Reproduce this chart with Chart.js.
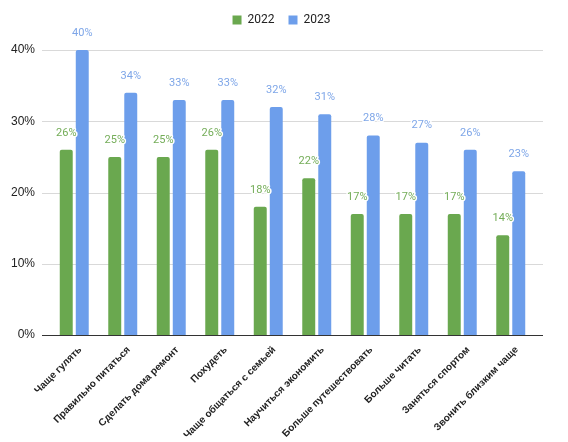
<!DOCTYPE html>
<html>
<head>
<meta charset="utf-8">
<script src="https://cdn.jsdelivr.net/npm/chart.js@4"></script>
<style>
  html, body { margin: 0; padding: 0; background: #fff; }
  #wrap { width: 568px; height: 442px; }
</style>
</head>
<body>
<div id="wrap"><canvas id="goalsChart"></canvas></div>
<script>
// Цели на год: 2022 vs 2023 (%)
const categories = [
  'Чаще гулять', 'Правильно питаться', 'Сделать дома ремонт', 'Похудеть',
  'Чаще общаться с семьей', 'Научиться экономить', 'Больше путешествовать',
  'Больше читать', 'Заняться спортом', 'Звонить близким чаще'
];
const values2022 = [26, 25, 25, 26, 18, 22, 17, 17, 17, 14];
const values2023 = [40, 34, 33, 33, 32, 31, 28, 27, 26, 23];
const yTicks = [0, 10, 20, 30, 40];

const green = '#6aa84f';
const blue = '#6d9eeb';

// подписи значений над столбиками
const valueLabels = {
  id: 'valueLabels',
  afterDatasetsDraw(chart) {
    const ctx = chart.ctx;
    ctx.save();
    ctx.font = '11px Roboto, "Liberation Sans", sans-serif';
    ctx.textAlign = 'center';
    ctx.textBaseline = 'middle';
    ctx.lineJoin = 'round';
    chart.data.datasets.forEach((ds, i) => {
      const meta = chart.getDatasetMeta(i);
      meta.data.forEach((bar, j) => {
        const txt = ds.data[j] + '%';
        const y = bar.y - 17;
        ctx.lineWidth = 3;
        ctx.strokeStyle = '#fff';
        ctx.strokeText(txt, bar.x, y);
        ctx.fillStyle = ds.labelColor;
        ctx.fillText(txt, bar.x, y);
      });
    });
    ctx.restore();
  }
};

// сетка чуть шире области графика, как в Google Sheets
const wideGrid = {
  id: 'wideGrid',
  beforeDatasetsDraw(chart) {
    const { ctx, chartArea, scales } = chart;
    ctx.save();
    yTicks.forEach(v => {
      const y = Math.round(scales.y.getPixelForValue(v)) + 0.5;
      ctx.strokeStyle = v === 0 ? '#333' : '#d9d9d9';
      ctx.lineWidth = 1;
      ctx.beginPath();
      ctx.moveTo(chartArea.left - 8, y);
      ctx.lineTo(chartArea.right + 8, y);
      ctx.stroke();
    });
    ctx.restore();
  }
};

// больше места под легендой, и сдвиг легенды к центру холста
const legendGap = {
  id: 'legendGap',
  beforeInit(chart) {
    const fit = chart.legend.fit;
    chart.legend.fit = function () {
      fit.call(this);
      this.height = 50;
    };
  },
  afterLayout(chart) {
    chart.legend.left += 9;
    chart.legend.right += 9;
  }
};

const ctx = document.getElementById('goalsChart').getContext('2d');
const goalsChart = new Chart(ctx, {
  type: 'bar',
  data: {
    labels: categories,
    datasets: [
      {
        label: '2022',
        data: values2022,
        backgroundColor: green,
        labelColor: '#74ad58',
        borderRadius: { topLeft: 2, topRight: 2 },
        borderSkipped: 'start',
        categoryPercentage: 0.66,
        barPercentage: 0.81
      },
      {
        label: '2023',
        data: values2023,
        backgroundColor: blue,
        labelColor: '#7ea6e8',
        borderRadius: { topLeft: 2, topRight: 2 },
        borderSkipped: 'start',
        categoryPercentage: 0.66,
        barPercentage: 0.81
      }
    ]
  },
  options: {
    responsive: true,
    maintainAspectRatio: false,
    animation: false,
    layout: { padding: { left: 10, right: 33, top: 0, bottom: 0 } },
    plugins: {
      legend: {
        position: 'top',
        labels: {
          boxWidth: 9,
          boxHeight: 9,
          padding: 14,
          color: '#222',
          font: { family: 'Roboto, "Liberation Sans", sans-serif', size: 12 }
        }
      },
      tooltip: { enabled: false }
    },
    scales: {
      x: {
        afterFit(scale) { scale.height = 107; },
        grid: { display: false, drawTicks: false },
        border: { display: false },
        ticks: {
          minRotation: 45,
          maxRotation: 45,
          padding: 9,
          labelOffset: 6,
          color: '#222',
          font: { family: '"Liberation Sans", Arial, sans-serif', size: 10, weight: 'bold' }
        }
      },
      y: {
        min: 0,
        max: 40,
        afterFit(scale) { scale.width = 40; },
        afterBuildTicks(scale) { scale.ticks = yTicks.map(v => ({ value: v })); },
        grid: { display: false, drawTicks: false },
        border: { display: false },
        ticks: {
          padding: 15,
          color: '#222',
          font: { family: '"Liberation Sans", Arial, sans-serif', size: 12 },
          callback: v => v + '%'
        }
      }
    }
  },
  plugins: [legendGap, wideGrid, valueLabels]
});
</script>
</body>
</html>
